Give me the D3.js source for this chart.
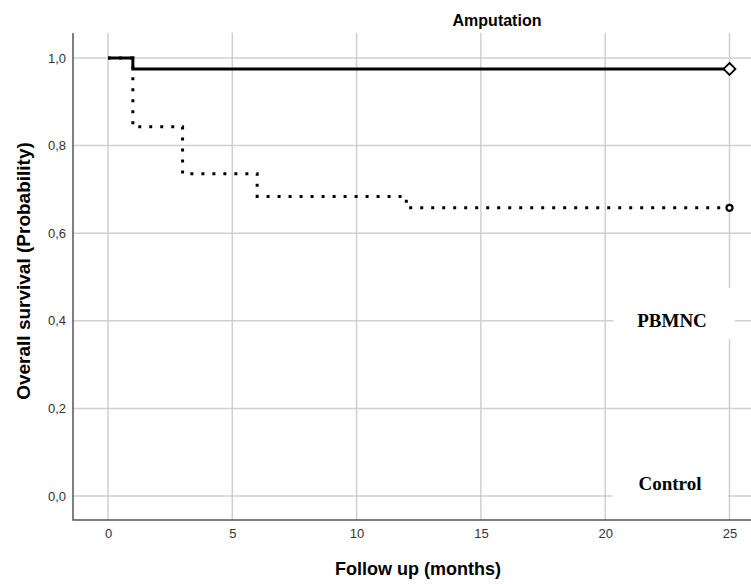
<!DOCTYPE html>
<html>
<head>
<meta charset="utf-8">
<script src="https://cdn.jsdelivr.net/npm/d3@7"></script>
<style>
  body { margin: 0; background: #fff; }
  svg { display: block; }
</style>
</head>
<body>
<div class="chart"></div>
<script>
// Kaplan-Meier steps
const pbmncTime = [0, 1, 25]
const pbmncSurv = [1.0, 0.975, 0.975]
const controlTime = [0, 1, 3, 6, 12, 25]
const controlSurv = [1.0, 0.843, 0.736, 0.684, 0.658, 0.658]
const xTicks = [0, 5, 10, 15, 20, 25]
const yTicks = [0, 0.2, 0.4, 0.6, 0.8, 1.0]

const width = 751
const height = 584
const plot = {left: 73, top: 33, right: 751, bottom: 520}

const svg = d3.select(".chart")
  .append("svg")
  .attr("width", width)
  .attr("height", height)

const x = d3.scaleLinear().domain([0, 25]).range([108, 729.5])
const y = d3.scaleLinear().domain([0, 1]).range([496, 58])

// grid
svg.append("g")
  .selectAll("line")
  .data(xTicks)
  .join("line")
  .attr("x1", d => x(d)).attr("x2", d => x(d))
  .attr("y1", plot.top).attr("y2", plot.bottom)
  .attr("stroke", "#cfcfcf")
  .attr("stroke-width", 1.5)

svg.append("g")
  .selectAll("line")
  .data(yTicks)
  .join("line")
  .attr("x1", plot.left).attr("x2", plot.right)
  .attr("y1", d => y(d)).attr("y2", d => y(d))
  .attr("stroke", "#cfcfcf")
  .attr("stroke-width", 1.5)

// axes (no tick marks, just labels)
const fmt = d => d3.format(".1f")(d).replace(".", ",")

const yAxis = svg.append("g")
  .attr("transform", `translate(${plot.left},0)`)
  .call(d3.axisLeft(y).tickValues(yTicks).tickFormat(fmt).tickSize(0).tickPadding(7))
const xAxis = svg.append("g")
  .attr("transform", `translate(0,${plot.bottom})`)
  .call(d3.axisBottom(x).tickValues(xTicks).tickSize(0).tickPadding(9))

yAxis.select(".domain").remove()
xAxis.select(".domain").remove()
svg.selectAll(".tick text")
  .attr("font-family", "Liberation Sans, Arial, sans-serif")
  .attr("font-size", 13)
  .attr("fill", "#333")

svg.append("path")
  .attr("d", `M${plot.left},${plot.top}V${plot.bottom}H${plot.right}`)
  .attr("fill", "none")
  .attr("stroke", "#555")
  .attr("stroke-width", 1.5)

// curves
const step = d3.line()
  .x(d => x(d[0]))
  .y(d => y(d[1]))
  .curve(d3.curveStepAfter)

svg.append("path")
  .datum(controlTime.map((t, i) => [t, controlSurv[i]]))
  .attr("fill", "none")
  .attr("stroke", "#000")
  .attr("stroke-width", 3)
  .attr("stroke-dasharray", "3,8")
  .attr("d", step)

svg.append("path")
  .datum(pbmncTime.map((t, i) => [t, pbmncSurv[i]]))
  .attr("fill", "none")
  .attr("stroke", "#000")
  .attr("stroke-width", 3)
  .attr("d", step)

// censor markers at the end
const lastP = pbmncTime.length - 1
svg.append("path")
  .attr("d", d3.symbol(d3.symbolDiamond2, 90)())
  .attr("transform", `translate(${x(pbmncTime[lastP])},${y(pbmncSurv[lastP])})`)
  .attr("fill", "#fff")
  .attr("stroke", "#000")
  .attr("stroke-width", 1.8)

const lastC = controlTime.length - 1
svg.append("circle")
  .attr("cx", x(controlTime[lastC]))
  .attr("cy", y(controlSurv[lastC]))
  .attr("r", 3)
  .attr("fill", "#fff")
  .attr("stroke", "#000")
  .attr("stroke-width", 2.2)

// group labels on white boxes
svg.append("rect")
  .attr("x", 613).attr("y", 288).attr("width", 122).attr("height", 51)
  .attr("fill", "#fff")
svg.append("rect")
  .attr("x", 613).attr("y", 462).attr("width", 115).attr("height", 44)
  .attr("fill", "#fff")

svg.append("text")
  .attr("x", 672).attr("y", 327)
  .attr("text-anchor", "middle")
  .attr("font-family", "Liberation Serif, 'DejaVu Serif', serif")
  .attr("font-weight", "bold")
  .attr("font-size", 19)
  .text("PBMNC")

svg.append("text")
  .attr("x", 670).attr("y", 490)
  .attr("text-anchor", "middle")
  .attr("font-family", "Liberation Serif, 'DejaVu Serif', serif")
  .attr("font-weight", "bold")
  .attr("font-size", 19)
  .text("Control")

// titles
svg.append("text")
  .attr("x", 497).attr("y", 26)
  .attr("text-anchor", "middle")
  .attr("font-family", "Liberation Sans, Arial, sans-serif")
  .attr("font-weight", "bold")
  .attr("font-size", 16)
  .text("Amputation")

svg.append("text")
  .attr("x", 418).attr("y", 575)
  .attr("text-anchor", "middle")
  .attr("font-family", "Liberation Sans, Arial, sans-serif")
  .attr("font-weight", "bold")
  .attr("font-size", 18)
  .text("Follow up (months)")

svg.append("text")
  .attr("transform", "translate(30,271) rotate(-90)")
  .attr("text-anchor", "middle")
  .attr("font-family", "Liberation Sans, Arial, sans-serif")
  .attr("font-weight", "bold")
  .attr("font-size", 19)
  .text("Overall survival (Probability)")
</script>
</body>
</html>
